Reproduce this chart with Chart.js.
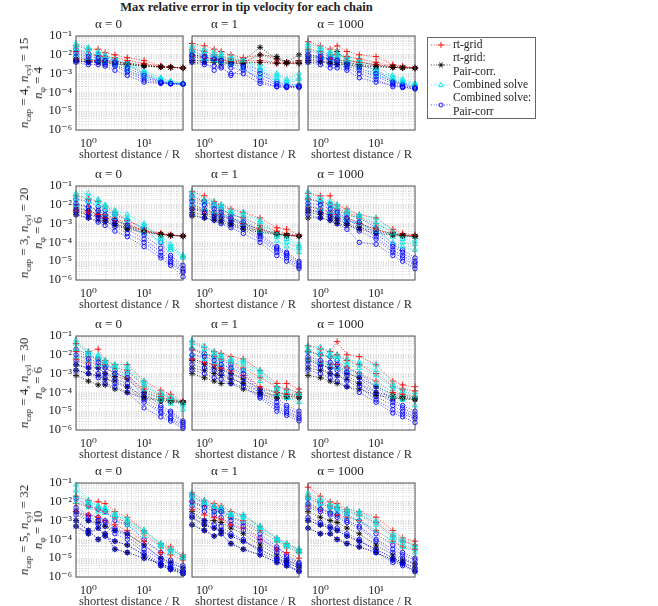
<!DOCTYPE html>
<html>
<head>
<meta charset="utf-8">
<script src="https://cdn.jsdelivr.net/npm/chart.js@4.4.1/dist/chart.umd.min.js"></script>
<style>
  html, body { margin: 0; padding: 0; background: #fff; }
  body { width: 658px; height: 606px; position: relative; overflow: hidden;
         font-family: 'Liberation Serif', 'DejaVu Serif', serif; color: #222; }
  canvas { position: absolute; }
  .title { position: absolute; top: 0; left: 76px; width: 341px; text-align: center;
           font-weight: bold; font-size: 12.5px; line-height: 14px; }
  .rowlab { position: absolute; white-space: nowrap; text-align: center; font-size: 13px;
            line-height: 14px; transform: translate(-50%, -50%) rotate(-90deg); }
  .rowlab sub { font-size: 70%; line-height: 0; vertical-align: -0.3em; }
  .legbox { position: absolute; left: 427px; top: 37px; width: 107px; height: 80px;
            border: 1px solid #666; }
  .legtxt { position: absolute; left: 453px; font-size: 11.5px; line-height: 13.5px; white-space: nowrap; }
  .legsvg { position: absolute; left: 430px; }
</style>
</head>
<body>
<div class="title">Max relative error in tip velocity for each chain</div>
<div id="root"></div>
<script>
// x positions (shortest distance / R) shared by every chain
const distances = [0.6, 1, 1.5, 2, 3, 5, 10, 20, 30, 50];

const alphaLabels = ['α = 0', 'α = 1', 'α = 1000'];
const nCap = [4, 3, 4, 5];
const nCyl = [15, 20, 30, 32];
const nPhi = [4, 6, 6, 10];

const xTickValues = [1, 10];
const xTickLabels = ['10⁰', '10¹'];
const yTickValues = [1e-6, 1e-5, 1e-4, 1e-3, 1e-2, 1e-1];
const yTickLabels = ['10⁻⁶', '10⁻⁵', '10⁻⁴', '10⁻³', '10⁻²', '10⁻¹'];

const seriesNames = ['rt-grid', 'rt-grid:\nPair-corr.', 'Combined solve', 'Combined solve:\nPair-corr'];

// ---- row 1: n_cap=4, n_cyl=15, n_phi=4 ----
const rtGrid_r1c1 = [
  [3e-2,2e-2,2e-2,1.3e-2,1e-2,7e-3,5e-3,2.5e-3,2.3e-3,2e-3],
  [1.5e-2,1e-2,9e-3,8e-3,7e-3,5e-3,3.5e-3,2.5e-3,2.2e-3,2e-3],
  [6e-3,5e-3,5e-3,4.5e-3,4e-3,3.5e-3,3e-3,2.3e-3,2.1e-3,2e-3]];
const pairCorr_r1c1 = [
  [6e-3,5.5e-3,5e-3,5e-3,4.5e-3,3.5e-3,2.8e-3,2.3e-3,2.2e-3,2e-3],
  [4.5e-3,4.5e-3,4e-3,4e-3,3.5e-3,3e-3,2.6e-3,2.2e-3,2.1e-3,2e-3],
  [5e-3,4e-3,4.5e-3,3.8e-3,3.2e-3,3e-3,2.5e-3,2.3e-3,2.2e-3,2e-3]];
const combined_r1c1 = [
  [4e-2,2.5e-2,1.5e-2,1e-2,5e-3,4e-3,1.5e-3,6e-4,4e-4,3e-4],
  [2e-2,1.2e-2,8e-3,6e-3,4e-3,2.5e-3,1e-3,5e-4,3.5e-4,3e-4],
  [1e-2,7e-3,5e-3,4e-3,3e-3,1.5e-3,7e-4,4e-4,3.2e-4,2.8e-4],
  [3e-2,2e-2,1.2e-2,8e-3,6e-3,3e-3,1.2e-3,5e-4,4e-4,3e-4]];
const combinedPair_r1c1 = [
  [2e-2,1.2e-2,1e-2,7e-3,5e-3,3e-3,1e-3,4e-4,3e-4,2.8e-4],
  [8e-3,6e-3,5e-3,4e-3,3e-3,1.5e-3,6e-4,3.5e-4,3e-4,2.8e-4],
  [4e-3,3e-3,3e-3,2.5e-3,1.5e-3,8e-4,3.5e-4,3e-4,2.8e-4,2.7e-4],
  [5e-3,4e-3,4e-3,3e-3,2.5e-3,1.2e-3,4.5e-4,3.2e-4,2.9e-4,2.8e-4],
  [1.2e-2,8e-3,7e-3,5e-3,4e-3,2e-3,8e-4,3.5e-4,3e-4,2.8e-4]];

const rtGrid_r1c2 = [
  [4e-2,3e-2,2e-2,1.5e-2,1e-2,7e-3,1e-2,6e-3,4e-3,5e-3],
  [2e-2,1.5e-2,1e-2,8e-3,6e-3,5e-3,5e-3,4e-3,3.5e-3,3.5e-3],
  [8e-3,7e-3,6e-3,5e-3,4.5e-3,4e-3,4e-3,3.5e-3,3.5e-3,3.5e-3]];
const pairCorr_r1c2 = [
  [1e-2,8e-3,6e-3,6e-3,5e-3,5e-3,2.5e-2,6e-3,4e-3,1e-2],
  [5e-3,5e-3,5e-3,4e-3,4e-3,4e-3,1e-2,8e-3,4e-3,4e-3],
  [4e-3,4e-3,4e-3,3.5e-3,3.5e-3,3.5e-3,4e-3,3.5e-3,3.5e-3,3.5e-3]];
const combined_r1c2 = [
  [3e-2,2e-2,1.5e-2,1.2e-2,8e-3,5e-3,3e-3,1e-3,5e-4,1e-3],
  [1.5e-2,1e-2,8e-3,7e-3,5e-3,4e-3,1.5e-3,6e-4,3e-4,5e-4],
  [8e-3,6e-3,5e-3,4e-3,3e-3,2e-3,8e-4,4e-4,2.5e-4,2.5e-4],
  [2e-2,1.5e-2,1e-2,9e-3,6e-3,5e-3,2e-3,8e-4,4e-4,6e-4]];
const combinedPair_r1c2 = [
  [1.5e-2,1e-2,8e-3,6e-3,4e-3,3e-3,1.5e-3,4e-4,2.5e-4,2.5e-4],
  [8e-3,6e-3,5e-3,4e-3,2e-3,1.5e-3,6e-4,2.5e-4,2e-4,2e-4],
  [4e-3,3e-3,2.5e-3,2e-3,1e-3,1e-3,3e-4,2e-4,1.8e-4,1.8e-4],
  [6e-3,4e-3,1.5e-3,2.5e-3,8e-4,2e-3,4e-4,2e-4,2e-4,2e-4],
  [1e-2,8e-3,6e-3,5e-3,3e-3,2.5e-3,1e-3,3e-4,2.2e-4,2.2e-4]];

const rtGrid_r1c3 = [
  [5e-2,3e-2,2e-2,3e-2,1.5e-2,1e-2,8e-3,3e-3,2.5e-3,2e-3],
  [2e-2,1.5e-2,1e-2,1e-2,8e-3,6e-3,4e-3,2.5e-3,2.2e-3,2e-3],
  [1e-2,8e-3,6e-3,5e-3,5e-3,4e-3,3e-3,2.3e-3,2.1e-3,2e-3]];
const pairCorr_r1c3 = [
  [8e-3,7e-3,6e-3,1.5e-2,5e-3,4e-3,3e-3,2.3e-3,2.1e-3,2e-3],
  [5e-3,4.5e-3,4e-3,4e-3,3.5e-3,3e-3,2.5e-3,2.2e-3,2e-3,2e-3],
  [4e-3,4e-3,3.5e-3,3e-3,3e-3,2.5e-3,2.3e-3,2.1e-3,2e-3,1.9e-3]];
const combined_r1c3 = [
  [4e-2,2.5e-2,1.5e-2,1.2e-2,8e-3,6e-3,2e-3,8e-4,5e-4,3e-4],
  [2e-2,1.5e-2,1e-2,8e-3,5e-3,3e-3,1.2e-3,5e-4,3.5e-4,2.5e-4],
  [1e-2,8e-3,6e-3,5e-3,3e-3,2e-3,8e-4,4e-4,3e-4,2e-4],
  [3e-2,2e-2,1.2e-2,1e-2,6e-3,4e-3,1.5e-3,6e-4,4e-4,2.8e-4]];
const combinedPair_r1c3 = [
  [1.5e-2,1.2e-2,8e-3,6e-3,4e-3,3e-3,1.5e-3,4e-4,3e-4,2e-4],
  [8e-3,6e-3,5e-3,4e-3,2.5e-3,1.5e-3,7e-4,3e-4,2e-4,1.8e-4],
  [4e-3,3e-3,2e-3,2e-3,1.5e-3,6e-4,3.5e-4,2.5e-4,1.8e-4,1.5e-4],
  [6e-3,5e-3,3e-3,3e-3,2e-3,1e-3,5e-4,2e-4,2e-4,1.6e-4],
  [1e-2,8e-3,6e-3,5e-3,3e-3,2e-3,1e-3,3.5e-4,2.5e-4,1.8e-4]];

// ---- row 2: n_cap=3, n_cyl=20, n_phi=6 ----
const rtGrid_r2c1 = [
  [3e-2,2e-2,1.5e-2,8e-3,4e-3,1.5e-3,6e-4,3e-4,2.5e-4,2.2e-4],
  [1e-2,8e-3,5e-3,3e-3,2e-3,1e-3,4e-4,2.8e-4,2.4e-4,2.2e-4],
  [5e-3,4e-3,3e-3,2e-3,1.5e-3,8e-4,4e-4,2.8e-4,2.4e-4,2.2e-4]];
const pairCorr_r2c1 = [
  [6e-3,5e-3,3e-3,2e-3,1.5e-3,8e-4,4.5e-4,2.8e-4,2.5e-4,2.2e-4],
  [4e-3,3e-3,2.5e-3,1.5e-3,1e-3,6e-4,4e-4,2.7e-4,2.4e-4,2.2e-4],
  [3e-3,2e-3,1.5e-3,1.2e-3,8e-4,5e-4,3.5e-4,2.6e-4,2.3e-4,2.1e-4]];
const combined_r2c1 = [
  [4e-2,4e-2,2e-2,1e-2,5e-3,3e-3,1e-3,2e-4,8e-5,2e-5],
  [2e-2,1.5e-2,1e-2,6e-3,3e-3,1.5e-3,6e-4,1.5e-4,5e-5,1.8e-5],
  [1e-2,8e-3,5e-3,3e-3,2e-3,8e-4,3e-4,1e-4,4e-5,1.5e-5],
  [3e-2,2.5e-2,1.5e-2,8e-3,4e-3,2e-3,8e-4,1.8e-4,6e-5,2e-5]];
const combinedPair_r2c1 = [
  [2e-2,1.5e-2,8e-3,5e-3,3e-3,1.5e-3,5e-4,1e-4,2e-5,6e-6],
  [8e-3,5e-3,3e-3,2e-3,1e-3,5e-4,1.5e-4,3e-5,1e-5,3e-6],
  [3e-3,2e-3,1.2e-3,8e-4,4e-4,2e-4,6e-5,1.5e-5,6e-6,1.5e-6],
  [5e-3,3e-3,2e-3,1.5e-3,7e-4,3e-4,1e-4,2e-5,8e-6,2.5e-6],
  [1.2e-2,8e-3,5e-3,3e-3,1.5e-3,8e-4,2.5e-4,5e-5,1.5e-5,4e-6]];

const rtGrid_r2c2 = [
  [5e-2,3e-2,1.5e-2,1e-2,6e-3,4e-3,2e-3,6e-4,5e-4,2.5e-4],
  [2e-2,1.5e-2,8e-3,5e-3,3e-3,2e-3,8e-4,4e-4,3e-4,2.3e-4],
  [8e-3,5e-3,4e-3,3e-3,2e-3,1e-3,5e-4,3e-4,2.5e-4,2.2e-4]];
const pairCorr_r2c2 = [
  [6e-3,5e-3,3e-3,2.5e-3,1.5e-3,1e-3,5e-4,3e-4,2.5e-4,2.2e-4],
  [4e-3,3e-3,2e-3,1.5e-3,1e-3,7e-4,4e-4,2.8e-4,2.4e-4,2.2e-4],
  [2.5e-3,2e-3,1.5e-3,1.2e-3,8e-4,5e-4,3.5e-4,2.6e-4,2.3e-4,2.1e-4]];
const combined_r2c2 = [
  [5e-2,2e-2,1.5e-2,1e-2,5e-3,4e-3,1.5e-3,3e-4,2e-4,8e-5],
  [2e-2,1.2e-2,8e-3,6e-3,3e-3,2e-3,8e-4,2e-4,1e-4,5e-5],
  [1e-2,6e-3,4e-3,3e-3,2e-3,1e-3,4e-4,1.2e-4,6e-5,3e-5],
  [3e-2,1.5e-2,1e-2,8e-3,4e-3,3e-3,1.2e-3,2.5e-4,1.5e-4,6e-5]];
const combinedPair_r2c2 = [
  [3e-2,1.5e-2,1e-2,6e-3,3e-3,2e-3,3e-4,6e-5,3e-5,1e-5],
  [1e-2,6e-3,4e-3,3e-3,1.5e-3,8e-4,2e-4,4e-5,2e-5,6e-6],
  [3e-3,2e-3,1.5e-3,1e-3,6e-4,3e-4,1e-4,2e-5,1e-5,4e-6],
  [6e-3,4e-3,2.5e-3,2e-3,1e-3,5e-4,1.5e-4,3e-5,1.5e-5,5e-6],
  [1.5e-2,1e-2,6e-3,4e-3,2e-3,1.2e-3,2.5e-4,5e-5,2.5e-5,8e-6]];

const rtGrid_r2c3 = [
  [4e-2,3e-2,3e-2,1e-2,6e-3,3e-3,2e-3,5e-4,3e-4,2.5e-4],
  [2e-2,1.5e-2,1e-2,6e-3,4e-3,2e-3,1e-3,3.5e-4,2.6e-4,2.3e-4],
  [8e-3,6e-3,4e-3,3e-3,2e-3,1e-3,5e-4,2.8e-4,2.4e-4,2.2e-4]];
const pairCorr_r2c3 = [
  [6e-3,4e-3,3e-3,2e-3,1.5e-3,1e-3,5e-4,2.8e-4,2.4e-4,2.2e-4],
  [4e-3,3e-3,2e-3,1.5e-3,1e-3,6e-4,4e-4,2.6e-4,2.3e-4,2.1e-4],
  [2e-3,2e-3,1.5e-3,1e-3,8e-4,5e-4,3e-4,2.5e-4,2.2e-4,2.1e-4]];
const combined_r2c3 = [
  [5e-2,2.5e-2,1.5e-2,1e-2,5e-3,3e-3,2e-3,4e-4,2e-4,2e-4],
  [2e-2,1.2e-2,8e-3,5e-3,3e-3,2e-3,8e-4,2e-4,1e-4,8e-5],
  [1e-2,6e-3,4e-3,3e-3,1.5e-3,1e-3,4e-4,1e-4,6e-5,4e-5],
  [3e-2,1.8e-2,1.2e-2,8e-3,4e-3,2.5e-3,1.2e-3,3e-4,1.5e-4,1.2e-4]];
const combinedPair_r2c3 = [
  [2e-2,1.5e-2,1e-2,5e-3,3e-3,2e-3,6e-4,8e-5,4e-5,1.5e-5],
  [8e-3,6e-3,4e-3,3e-3,1.5e-3,8e-4,2e-4,4e-5,2e-5,8e-6],
  [3e-3,2e-3,1.5e-3,1e-3,5e-4,1e-4,8e-5,2e-5,1e-5,4e-6],
  [5e-3,4e-3,2.5e-3,2e-3,1e-3,4e-4,1.5e-4,3e-5,1.5e-5,6e-6],
  [1.2e-2,1e-2,6e-3,4e-3,2e-3,1.2e-3,3e-4,6e-5,3e-5,1e-5]];

// ---- row 3: n_cap=4, n_cyl=30, n_phi=6 ----
const rtGrid_r3c1 = [
  [4e-2,1.5e-2,2e-2,5e-3,3e-3,3e-3,4e-4,1.3e-4,8e-5,3.5e-5],
  [1.5e-2,8e-3,6e-3,3e-3,2e-3,1.5e-3,2e-4,8e-5,5e-5,3e-5],
  [6e-3,4e-3,3e-3,2e-3,1e-3,6e-4,1.5e-4,6e-5,4e-5,3e-5]];
const pairCorr_r3c1 = [
  [3e-3,2e-3,2e-3,1e-3,7e-4,5e-4,1e-4,5e-5,4e-5,3e-5],
  [1.5e-3,1e-3,8e-4,5e-4,4e-4,2e-4,6e-5,4e-5,3.5e-5,3e-5],
  [8e-4,4e-4,2.5e-4,2.5e-4,1.5e-4,1e-4,5e-5,3.5e-5,3e-5,2.8e-5]];
const combined_r3c1 = [
  [6e-2,1.5e-2,1e-2,5e-3,3e-3,3e-3,4e-4,1e-4,6e-5,3e-5],
  [2e-2,1e-2,6e-3,3e-3,2e-3,1.5e-3,2.5e-4,6e-5,4e-5,2e-5],
  [8e-3,5e-3,3e-3,2e-3,1e-3,8e-4,1.5e-4,4e-5,2.5e-5,1.2e-5],
  [4e-2,1.2e-2,8e-3,4e-3,2.5e-3,2e-3,3e-4,8e-5,5e-5,2.5e-5]];
const combinedPair_r3c1 = [
  [2e-2,1e-2,6e-3,3e-3,1.5e-3,1e-3,1e-4,2e-5,1e-5,3e-6],
  [5e-3,3e-3,2e-3,1e-3,5e-4,3e-4,4e-5,1e-5,5e-6,2e-6],
  [1.5e-3,1e-3,6e-4,3e-4,2e-4,1e-4,1.5e-5,5e-6,3e-6,1.2e-6],
  [3e-3,2e-3,1e-3,6e-4,3e-4,2e-4,3e-5,8e-6,4e-6,1.5e-6],
  [1e-2,6e-3,4e-3,2e-3,1e-3,6e-4,6e-5,1.5e-5,8e-6,2.5e-6]];

const rtGrid_r3c2 = [
  [5e-2,2.5e-2,1.5e-2,1.2e-2,8e-3,6e-3,1.5e-3,3e-4,3e-4,1.5e-4],
  [2e-2,1e-2,8e-3,6e-3,4e-3,2e-3,6e-4,2e-4,1.5e-4,1e-4],
  [6e-3,4e-3,3e-3,2e-3,1.5e-3,8e-4,2e-4,1e-4,8e-5,6e-5]];
const pairCorr_r3c2 = [
  [5e-3,3e-3,2e-3,1.5e-3,1e-3,5e-4,1.5e-4,1e-4,8e-5,8e-5],
  [2e-3,1.5e-3,1e-3,8e-4,5e-4,3e-4,1e-4,7e-5,6e-5,6e-5],
  [1e-3,6e-4,4e-4,3e-4,3e-4,1.5e-4,8e-5,5e-5,5e-5,5e-5]];
const combined_r3c2 = [
  [6e-2,3e-2,1.5e-2,1e-2,6e-3,5e-3,1.5e-3,2e-4,1.5e-4,1e-4],
  [2.5e-2,1.2e-2,8e-3,6e-3,4e-3,3e-3,8e-4,1.5e-4,8e-5,6e-5],
  [1e-2,6e-3,4e-3,3e-3,2e-3,1.5e-3,4e-4,8e-5,5e-5,3e-5],
  [4e-2,2e-2,1.2e-2,8e-3,5e-3,4e-3,1.2e-3,1.8e-4,1.2e-4,8e-5]];
const combinedPair_r3c2 = [
  [2e-2,1.2e-2,8e-3,5e-3,3e-3,1.5e-3,1.5e-4,5e-5,2e-5,1e-5],
  [6e-3,4e-3,3e-3,2e-3,1e-3,6e-4,8e-5,2e-5,1e-5,5e-6],
  [1.5e-3,1e-3,6e-4,5e-4,3e-4,2e-4,5e-5,1e-5,6e-6,3e-6],
  [3e-3,2e-3,1.5e-3,1e-3,6e-4,3e-4,6e-5,1.5e-5,8e-6,4e-6],
  [1e-2,8e-3,5e-3,3e-3,2e-3,1e-3,1e-4,3e-5,1.5e-5,7e-6]];

const rtGrid_r3c3 = [
  [3e-2,2e-2,1.5e-2,5e-2,1e-2,8e-3,3e-3,4e-4,2.5e-4,2e-4],
  [1.5e-2,1e-2,8e-3,1e-2,5e-3,3e-3,1e-3,2e-4,1.5e-4,1.2e-4],
  [6e-3,4e-3,3e-3,3e-3,2e-3,1e-3,4e-4,1e-4,8e-5,6e-5]];
const pairCorr_r3c3 = [
  [5e-3,3e-3,2e-3,2e-3,1e-3,6e-4,2e-4,8e-5,6e-5,5e-5],
  [2e-3,1.5e-3,1e-3,8e-4,5e-4,3e-4,1e-4,6e-5,5e-5,4.5e-5],
  [8e-4,6e-4,4e-4,3e-4,2e-4,1.5e-4,7e-5,5e-5,4.5e-5,4e-5]];
const combined_r3c3 = [
  [3e-2,2.5e-2,1.5e-2,1e-2,6e-3,4e-3,3e-3,3e-4,1.5e-4,1e-4],
  [1.5e-2,1e-2,8e-3,6e-3,3e-3,2e-3,8e-4,1.5e-4,8e-5,5e-5],
  [6e-3,4e-3,3e-3,2e-3,1.5e-3,1e-3,3e-4,6e-5,4e-5,2e-5],
  [2e-2,1.5e-2,1e-2,8e-3,4e-3,3e-3,1.5e-3,2e-4,1.2e-4,7e-5]];
const combinedPair_r3c3 = [
  [1.5e-2,1e-2,8e-3,5e-3,2e-3,1e-3,2e-4,4e-5,2e-5,1e-5],
  [5e-3,3e-3,2e-3,1.5e-3,8e-4,3e-4,6e-5,2e-5,1e-5,5e-6],
  [1.5e-3,1e-3,6e-4,4e-4,2e-4,1e-4,3e-5,8e-6,5e-6,2.5e-6],
  [3e-3,2e-3,1e-3,8e-4,4e-4,2e-4,4e-5,1.2e-5,7e-6,4e-6],
  [8e-3,5e-3,4e-3,3e-3,1.2e-3,6e-4,1e-4,3e-5,1.5e-5,7e-6]];

// ---- row 4: n_cap=5, n_cyl=32, n_phi=10 ----
const rtGrid_r4c1 = [
  [2e-2,1.2e-2,1e-2,8e-3,3e-3,1.5e-3,3e-4,6e-5,4e-5,1.5e-5],
  [8e-3,6e-3,4e-3,3e-3,1.5e-3,8e-4,2e-4,4e-5,3e-5,1.2e-5],
  [3e-3,2e-3,1.5e-3,1e-3,6e-4,3e-4,8e-5,2e-5,1.5e-5,8e-6]];
const pairCorr_r4c1 = [
  [3e-3,1e-3,8e-4,5e-4,3e-4,2e-4,5e-5,1e-5,6e-6,3e-6],
  [1e-3,3e-4,1e-4,2e-4,3e-5,2e-5,1e-5,5e-6,3e-6,2e-6],
  [5e-4,2e-4,4e-4,1.5e-4,8e-5,5e-5,1.5e-5,4e-6,2.5e-6,1.5e-6]];
const combined_r4c1 = [
  [8e-2,1.2e-2,6e-3,5e-3,2.5e-3,1.2e-3,3e-4,6e-5,3e-5,1.3e-5],
  [2e-2,8e-3,5e-3,4e-3,2e-3,1e-3,2.5e-4,5e-5,2.5e-5,1.2e-5],
  [1e-2,5e-3,3e-3,2.5e-3,1.5e-3,6e-4,1.5e-4,4e-5,2e-5,1e-5],
  [4e-2,1e-2,6e-3,4e-3,2e-3,1e-3,3e-4,5e-5,3e-5,1.2e-5]];
const combinedPair_r4c1 = [
  [1.5e-2,6e-3,4e-3,3e-3,1e-3,6e-4,1e-4,2e-5,8e-6,4e-6],
  [5e-3,2e-3,1.5e-3,1e-3,4e-4,2e-4,5e-5,1e-5,5e-6,3e-6],
  [2e-3,1e-3,6e-4,5e-4,2e-4,1e-4,2e-5,5e-6,3e-6,1.5e-6],
  [3e-3,1.5e-3,1e-3,8e-4,3e-4,1.5e-4,3e-5,8e-6,4e-6,2e-6],
  [1e-3,3e-4,1e-4,2e-4,3e-5,2e-5,1e-5,5e-6,3e-6,2e-6],
  [5e-4,2e-4,4e-4,1.5e-4,8e-5,5e-5,1.5e-5,4e-6,2.5e-6,1.5e-6]];

const rtGrid_r4c2 = [
  [3e-2,1.2e-2,8e-3,6e-3,3e-3,2e-3,5e-4,1.2e-4,6e-5,3e-5],
  [1e-2,6e-3,4e-3,3e-3,1.5e-3,1e-3,3e-4,8e-5,4e-5,2e-5],
  [4e-3,2e-3,1.5e-3,1.2e-3,6e-4,4e-4,1e-4,3e-5,2e-5,1e-5]];
const pairCorr_r4c2 = [
  [3e-3,1e-3,1e-3,8e-4,4e-4,2e-4,5e-5,1.5e-5,8e-6,4e-6],
  [6e-4,3e-4,1.5e-4,2e-4,6e-5,3e-5,1.5e-5,6e-6,4e-6,2e-6],
  [1.5e-3,6e-4,4e-4,3e-4,1.5e-4,8e-5,3e-5,1e-5,6e-6,3e-6]];
const combined_r4c2 = [
  [3e-2,1.2e-2,6e-3,5e-3,2.5e-3,2e-3,5e-4,1.2e-4,6e-5,3e-5],
  [1.5e-2,8e-3,5e-3,4e-3,2e-3,1.5e-3,4e-4,1e-4,5e-5,2.5e-5],
  [8e-3,5e-3,3e-3,3e-3,1.5e-3,1e-3,3e-4,8e-5,4e-5,2e-5],
  [2e-2,1e-2,6e-3,4e-3,2e-3,1.8e-3,4.5e-4,1.1e-4,5.5e-5,2.8e-5]];
const combinedPair_r4c2 = [
  [2e-2,8e-3,5e-3,4e-3,1.5e-3,8e-4,2e-4,4e-5,1.5e-5,6e-6],
  [6e-3,3e-3,2e-3,1.5e-3,6e-4,3e-4,8e-5,2e-5,8e-6,4e-6],
  [2e-3,1e-3,6e-4,5e-4,2e-4,1e-4,2e-5,8e-6,5e-6,2e-6],
  [1e-2,5e-3,3e-3,3e-3,1e-3,5e-4,1.2e-4,3e-5,1.2e-5,5e-6],
  [6e-4,3e-4,1.5e-4,2e-4,6e-5,3e-5,1.5e-5,6e-6,4e-6,2e-6],
  [1.5e-3,6e-4,4e-4,3e-4,1.5e-4,8e-5,3e-5,1e-5,6e-6,3e-6]];

const rtGrid_r4c3 = [
  [6e-2,2e-2,1e-2,8e-3,4e-3,3e-3,1.5e-3,3e-4,1.2e-4,8e-5],
  [2e-2,1e-2,6e-3,5e-3,3e-3,2e-3,8e-4,1.5e-4,8e-5,5e-5],
  [6e-3,4e-3,3e-3,2e-3,1.5e-3,1e-3,3e-4,8e-5,4e-5,3e-5]];
const pairCorr_r4c3 = [
  [3e-3,1.5e-3,1e-3,8e-4,4e-4,2e-4,5e-5,1.5e-5,8e-6,5e-6],
  [4e-4,2e-4,2e-4,1e-4,6e-5,4e-5,2e-5,8e-6,5e-6,2e-6],
  [1e-3,6e-4,4e-4,3e-4,1.5e-4,8e-5,3e-5,1e-5,6e-6,3e-6]];
const combined_r4c3 = [
  [3e-2,1.5e-2,8e-3,6e-3,4e-3,3e-3,1e-3,2e-4,1e-4,5e-5],
  [1.5e-2,8e-3,5e-3,4e-3,2.5e-3,2e-3,6e-4,1.2e-4,6e-5,3e-5],
  [8e-3,5e-3,3e-3,3e-3,1.5e-3,1e-3,3e-4,8e-5,4e-5,2e-5],
  [2e-2,1.2e-2,6e-3,5e-3,3e-3,2.5e-3,8e-4,1.5e-4,8e-5,4e-5]];
const combinedPair_r4c3 = [
  [1.5e-2,8e-3,5e-3,4e-3,2e-3,1e-3,2e-4,5e-5,2e-5,1e-5],
  [5e-3,3e-3,2e-3,1.5e-3,8e-4,4e-4,8e-5,2e-5,1e-5,5e-6],
  [1.5e-3,8e-4,5e-4,4e-4,2e-4,1e-4,2e-5,6e-6,4e-6,2e-6],
  [8e-3,4e-3,2.5e-3,2e-3,1e-3,5e-4,1e-4,3e-5,1.5e-5,8e-6],
  [4e-4,2e-4,2e-4,1e-4,6e-5,4e-5,2e-5,8e-6,5e-6,2e-6],
  [1e-3,6e-4,4e-4,3e-4,1.5e-4,8e-5,3e-5,1e-5,6e-6,3e-6]];

const panelData = [
  [[rtGrid_r1c1, pairCorr_r1c1, combined_r1c1, combinedPair_r1c1],
   [rtGrid_r1c2, pairCorr_r1c2, combined_r1c2, combinedPair_r1c2],
   [rtGrid_r1c3, pairCorr_r1c3, combined_r1c3, combinedPair_r1c3]],
  [[rtGrid_r2c1, pairCorr_r2c1, combined_r2c1, combinedPair_r2c1],
   [rtGrid_r2c2, pairCorr_r2c2, combined_r2c2, combinedPair_r2c2],
   [rtGrid_r2c3, pairCorr_r2c3, combined_r2c3, combinedPair_r2c3]],
  [[rtGrid_r3c1, pairCorr_r3c1, combined_r3c1, combinedPair_r3c1],
   [rtGrid_r3c2, pairCorr_r3c2, combined_r3c2, combinedPair_r3c2],
   [rtGrid_r3c3, pairCorr_r3c3, combined_r3c3, combinedPair_r3c3]],
  [[rtGrid_r4c1, pairCorr_r4c1, combined_r4c1, combinedPair_r4c1],
   [rtGrid_r4c2, pairCorr_r4c2, combined_r4c2, combinedPair_r4c2],
   [rtGrid_r4c3, pairCorr_r4c3, combined_r4c3, combinedPair_r4c3]]
];

// styling
const FONT = "'Liberation Serif', 'DejaVu Serif', serif";
const styles = [
  { color: '#ff0000', point: 'cross',    radius: 3.2 },
  { color: '#000000', point: 'star',     radius: 3 },
  { color: '#00e4e4', point: 'triangle', radius: 2.9 },
  { color: '#0000ff', point: 'circle',   radius: 2.2 }
];
const colLeft = [76, 192, 308];
const rowTop = [36, 186, 336, 483];
const plotW = 109, plotH = 94;
const padL = 44, padT = 23, padB = 32, padR = 5;

// grid positions (minor + major) for the log axes
const xGrid = [];
[0.1, 1, 10].forEach(d => { for (let m = 1; m <= 9; m++) { const v = m * d; if (v >= 0.6 - 1e-9 && v <= 50 + 1e-9) xGrid.push(v); } });
const yGrid = [];
yTickValues.forEach((d, i) => { for (let m = 1; m <= 9; m++) { if (i === yTickValues.length - 1 && m > 1) break; yGrid.push(m * d); } });

function labelFor(v, vals, labels) {
  const i = vals.findIndex(t => Math.abs(Math.log10(t) - Math.log10(v)) < 1e-6);
  return i >= 0 ? labels[i] : '';
}

const framePlugin = {
  id: 'frame',
  afterDraw(chart) {
    const { ctx, chartArea: a } = chart;
    ctx.save();
    ctx.strokeStyle = '#555';
    ctx.lineWidth = 1;
    ctx.strokeRect(a.left, a.top, a.right - a.left, a.bottom - a.top);
    ctx.restore();
  }
};

function makeDatasets(series) {
  const out = [];
  const maxChains = Math.max(...series.map(s => s.length));
  // interleave chains so series overlap like the original plot
  for (let c = 0; c < maxChains; c++) {
    series.forEach((chains, s) => {
      if (!chains[c]) return;
      const st = styles[s];
      out.push({
        data: distances.map((x, k) => ({ x, y: chains[c][k] })),
        showLine: true,
        borderColor: st.color,
        backgroundColor: 'rgba(0,0,0,0)',
        borderWidth: 0.7,
        borderDash: [1, 1.6],
        pointStyle: st.point,
        pointRadius: st.radius,
        pointBorderWidth: 0.9,
        pointBorderColor: st.color,
        pointBackgroundColor: 'rgba(0,0,0,0)',
        clip: 8
      });
    });
  }
  // later datasets on top
  out.forEach((d, i) => { d.order = out.length - i; });
  return out;
}

const root = document.getElementById('root');

panelData.forEach((row, r) => {
  row.forEach((series, c) => {
    const canvas = document.createElement('canvas');
    const w = padL + plotW + padR, h = padT + plotH + padB;
    canvas.width = w; canvas.height = h;
    canvas.style.left = (colLeft[c] - padL) + 'px';
    canvas.style.top = (rowTop[r] - padT) + 'px';
    canvas.style.width = w + 'px'; canvas.style.height = h + 'px';
    root.appendChild(canvas);

    new Chart(canvas.getContext('2d'), {
      type: 'scatter',
      data: { datasets: makeDatasets(series) },
      options: {
        responsive: false,
        animation: false,
        events: [],
        layout: { padding: { left: 0, right: padR, top: 0, bottom: 0 } },
        plugins: {
          legend: { display: false },
          tooltip: { enabled: false },
          title: {
            display: true,
            text: alphaLabels[c],
            color: '#222',
            font: { family: FONT, size: 13, weight: 'normal', lineHeight: 1.2 },
            padding: { top: 3.4, bottom: 4 }
          }
        },
        scales: {
          x: {
            type: 'logarithmic',
            min: 0.6, max: 50,
            afterBuildTicks: s => { s.ticks = xGrid.map(v => ({ value: v })); },
            afterFit: s => { s.height = padB; },
            ticks: {
              autoSkip: false, maxRotation: 0, padding: 7,
              color: '#222', font: { family: FONT, size: 12 },
              callback: v => labelFor(v, xTickValues, xTickLabels)
            },
            grid: { color: '#c4c4c4', lineWidth: 0.6, drawTicks: false },
            border: { display: false, dash: [1, 1.5] },
            title: {
              display: true, text: 'shortest distance / R', color: '#333',
              font: { family: FONT, size: 12.5 }, padding: { top: 0, bottom: 0 }
            }
          },
          y: {
            type: 'logarithmic',
            min: 1e-6, max: 1e-1,
            afterBuildTicks: s => { s.ticks = yGrid.map(v => ({ value: v })); },
            afterFit: s => { s.width = padL; },
            ticks: {
              display: c === 0, autoSkip: false, padding: 4,
              color: '#222', font: { family: FONT, size: 12.5 },
              callback: v => labelFor(v, yTickValues, yTickLabels)
            },
            grid: { color: '#c4c4c4', lineWidth: 0.6, drawTicks: false },
            border: { display: false, dash: [1, 1.5] }
          }
        }
      },
      plugins: [framePlugin]
    });
  });

  // row label (rotated, two lines)
  const lab = document.createElement('div');
  lab.className = 'rowlab';
  lab.innerHTML = '<i>n</i><sub>cap</sub> = ' + nCap[r] + ', <i>n</i><sub>cyl</sub> = ' + nCyl[r] +
                  '<br><i>n</i><sub>φ</sub> = ' + nPhi[r];
  lab.style.left = '31px';
  lab.style.top = (rowTop[r] + plotH / 2) + 'px';
  root.appendChild(lab);
});

// legend
const legBox = document.createElement('div');
legBox.className = 'legbox';
root.appendChild(legBox);
const legTextTop = [38, 51, 78, 91];
const legMarkY = [45, 65, 85, 105];
seriesNames.forEach((name, i) => {
  const st = styles[i];
  const svg = document.createElementNS('http://www.w3.org/2000/svg', 'svg');
  svg.setAttribute('class', 'legsvg');
  svg.setAttribute('width', '22'); svg.setAttribute('height', '10');
  svg.style.top = (legMarkY[i] - 5) + 'px';
  let mark = '';
  const cx = 11, cy = 5;
  if (st.point === 'cross') mark = `<path d="M${cx-3} ${cy}H${cx+3}M${cx} ${cy-3}V${cy+3}" stroke="${st.color}" stroke-width="0.9"/>`;
  if (st.point === 'star') mark = `<path d="M${cx-3} ${cy}H${cx+3}M${cx-1.5} ${cy-2.6}L${cx+1.5} ${cy+2.6}M${cx+1.5} ${cy-2.6}L${cx-1.5} ${cy+2.6}" stroke="${st.color}" stroke-width="0.9"/>`;
  if (st.point === 'triangle') mark = `<path d="M${cx} ${cy-2.6}L${cx+2.4} ${cy+1.6}L${cx-2.4} ${cy+1.6}Z" fill="none" stroke="${st.color}" stroke-width="0.9"/>`;
  if (st.point === 'circle') mark = `<circle cx="${cx}" cy="${cy}" r="2" fill="none" stroke="${st.color}" stroke-width="0.9"/>`;
  svg.innerHTML = `<line x1="1" y1="${cy}" x2="21" y2="${cy}" stroke="${st.color}" stroke-width="0.7" stroke-dasharray="1 1.6"/>` + mark;
  root.appendChild(svg);
  const t = document.createElement('div');
  t.className = 'legtxt';
  t.style.top = legTextTop[i] + 'px';
  t.innerHTML = name.replace('\n', '<br>');
  root.appendChild(t);
});
</script>
</body>
</html>
